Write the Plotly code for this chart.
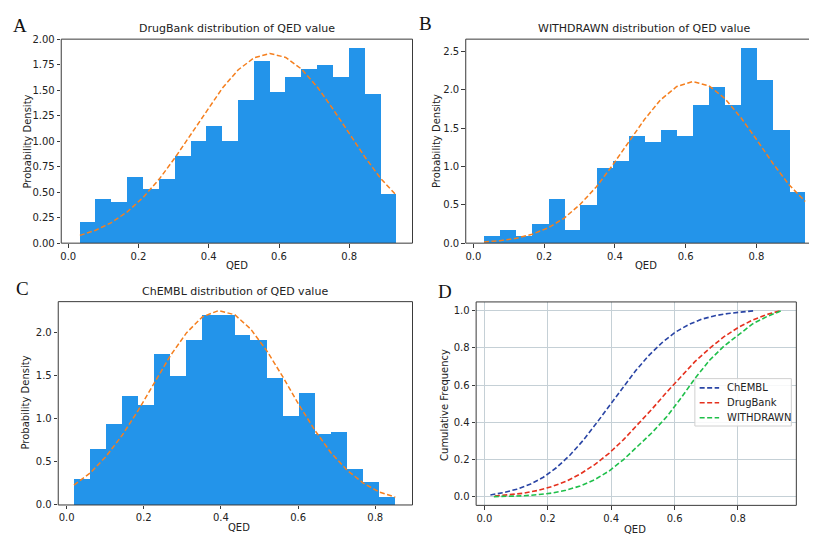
import plotly.graph_objects as go

# ---------------- data ----------------
qed_ticks = [0.0, 0.2, 0.4, 0.6, 0.8]

# DrugBank histogram (density) and fitted curve at bin edges
drugbank_edges = [0.033, 0.078, 0.123, 0.168, 0.213, 0.259, 0.304, 0.349, 0.394, 0.439, 0.484,
                  0.529, 0.574, 0.619, 0.664, 0.710, 0.755, 0.800, 0.845, 0.890, 0.935]
drugbank_density = [0.21, 0.43, 0.40, 0.65, 0.53, 0.63, 0.85, 1.00, 1.15, 1.00,
                    1.40, 1.78, 1.48, 1.63, 1.71, 1.75, 1.63, 1.91, 1.46, 0.48]
drugbank_fit = [0.076, 0.127, 0.202, 0.307, 0.448, 0.628, 0.838, 1.068, 1.303, 1.521, 1.700,
                1.817, 1.860, 1.821, 1.707, 1.526, 1.308, 1.073, 0.842, 0.632, 0.465]
drugbank_cum = [0.004, 0.010, 0.019, 0.034, 0.055, 0.084, 0.124, 0.174, 0.235, 0.307, 0.387,
                0.472, 0.560, 0.645, 0.726, 0.797, 0.859, 0.909, 0.949, 0.979, 1.000]

# WITHDRAWN
withdrawn_edges = [0.030, 0.075, 0.121, 0.166, 0.212, 0.257, 0.302, 0.348, 0.393, 0.439, 0.484,
                   0.529, 0.575, 0.620, 0.666, 0.711, 0.756, 0.802, 0.847, 0.893, 0.938]
withdrawn_density = [0.09, 0.17, 0.09, 0.25, 0.57, 0.17, 0.49, 0.98, 1.07, 1.39,
                     1.32, 1.47, 1.39, 1.80, 2.04, 1.80, 2.54, 2.13, 1.47, 0.66]
withdrawn_fit = [0.016, 0.033, 0.063, 0.116, 0.201, 0.328, 0.507, 0.737, 1.015, 1.318, 1.616,
                 1.870, 2.044, 2.108, 2.053, 1.887, 1.639, 1.342, 1.038, 0.758, 0.545]
withdrawn_cum = [0.001, 0.002, 0.005, 0.011, 0.020, 0.035, 0.058, 0.092, 0.138, 0.200, 0.270,
                 0.345, 0.430, 0.530, 0.640, 0.735, 0.810, 0.873, 0.930, 0.970, 1.000]

# ChEMBL
chembl_edges = [0.019, 0.061, 0.102, 0.144, 0.186, 0.227, 0.269, 0.311, 0.352, 0.394, 0.436,
                0.477, 0.519, 0.561, 0.602, 0.644, 0.685, 0.727, 0.769, 0.810, 0.852]
chembl_density = [0.30, 0.65, 0.94, 1.27, 1.16, 1.75, 1.50, 1.91, 2.20, 2.20,
                  1.97, 1.91, 1.47, 1.03, 1.30, 0.83, 0.85, 0.42, 0.27, 0.10]
chembl_fit = [0.229, 0.369, 0.560, 0.806, 1.098, 1.415, 1.727, 1.993, 2.176, 2.249, 2.200,
              2.036, 1.783, 1.478, 1.160, 0.861, 0.605, 0.402, 0.253, 0.150, 0.090]
chembl_cum = [0.010, 0.023, 0.041, 0.067, 0.105, 0.156, 0.222, 0.302, 0.392, 0.488, 0.585,
              0.677, 0.760, 0.829, 0.884, 0.925, 0.954, 0.973, 0.985, 0.993, 1.000]

series_names = ['ChEMBL', 'DrugBank', 'WITHDRAWN']

# ---------------- style ----------------
BAR = '#2394ea'
FIT = '#f57f1e'
AX = '#3a3a3a'
FONT = 'DejaVu Sans'
DASH = '5px,2.5px'
W, H = 817, 535
CUM_COLORS = ['#2a45a5', '#e5311e', '#1fbf4a']


def px(x):
    return x / W


def py(y):
    return 1 - y / H


fig = go.Figure()


def add_hist(edges, dens, fit, xa, ya):
    centers = [(edges[i] + edges[i + 1]) / 2 for i in range(len(dens))]
    widths = [edges[i + 1] - edges[i] for i in range(len(dens))]
    fig.add_trace(go.Bar(x=centers, y=dens, width=widths, marker=dict(color=BAR, line=dict(width=0)),
                         xaxis=xa, yaxis=ya, showlegend=False, hoverinfo='skip'))
    fig.add_trace(go.Scatter(x=edges, y=fit, mode='lines', line=dict(color=FIT, width=1.5, dash=DASH),
                             xaxis=xa, yaxis=ya, showlegend=False, hoverinfo='skip'))


add_hist(drugbank_edges, drugbank_density, drugbank_fit, 'x', 'y')
add_hist(withdrawn_edges, withdrawn_density, withdrawn_fit, 'x2', 'y2')
add_hist(chembl_edges, chembl_density, chembl_fit, 'x3', 'y3')

for name, ex, cy, col in zip(series_names, [chembl_edges, drugbank_edges, withdrawn_edges],
                             [chembl_cum, drugbank_cum, withdrawn_cum], CUM_COLORS):
    fig.add_trace(go.Scatter(x=ex, y=cy, mode='lines', name=name,
                             line=dict(color=col, width=1.6, dash=DASH),
                             xaxis='x4', yaxis='y4', hoverinfo='skip', showlegend=False))


def axcommon(**kw):
    d = dict(showline=False, ticks='outside', ticklen=3.5,
             tickwidth=1, tickcolor=AX, showgrid=False, zeroline=False,
             tickfont=dict(family=FONT, size=10, color='#222'))
    d.update(kw)
    return d


xt = dict(tickvals=qed_ticks, ticktext=['%.1f' % v for v in qed_ticks])

fig.update_layout(
    width=W, height=H, margin=dict(l=0, r=0, t=0, b=0),
    paper_bgcolor='white', plot_bgcolor='white', bargap=0, showlegend=False,
    xaxis=axcommon(domain=[px(52.3), px(404)], range=[-0.020, 0.980], anchor='y', **xt),
    yaxis=axcommon(domain=[py(235), py(26.7)], range=[0, 2.0], anchor='x',
                   tickvals=[0, 0.25, 0.5, 0.75, 1.0, 1.25, 1.5, 1.75, 2.0], tickformat='.2f'),
    xaxis2=axcommon(domain=[px(457.3), px(813.3)], range=[-0.0216, 0.9835], anchor='y2', **xt),
    yaxis2=axcommon(domain=[py(235), py(26.7)], range=[0, 2.662], anchor='x2',
                    tickvals=[0, 0.5, 1.0, 1.5, 2.0, 2.5], tickformat='.1f'),
    xaxis3=axcommon(domain=[px(49.3), px(404)], range=[-0.0217, 0.8966], anchor='y3', **xt),
    yaxis3=axcommon(domain=[py(502.3), py(294.7)], range=[0, 2.352], anchor='x3',
                    tickvals=[0, 0.5, 1.0, 1.5, 2.0], tickformat='.1f'),
    xaxis4=axcommon(domain=[px(467.7), px(788.3)], range=[-0.026, 0.984], anchor='y4',
                    showgrid=True, gridcolor='#c5d0d6', gridwidth=1, **xt),
    yaxis4=axcommon(domain=[py(502.7), py(295)], range=[-0.046, 1.047], anchor='x4',
                    showgrid=True, gridcolor='#c5d0d6', gridwidth=1,
                    tickvals=[0, 0.2, 0.4, 0.6, 0.8, 1.0], tickformat='.1f'),
)

shapes = []
# axes frames
for xa, ya in [('x', 'y'), ('x2', 'y2'), ('x3', 'y3'), ('x4', 'y4')]:
    shapes.append(dict(type='rect', xref=xa + ' domain', yref=ya + ' domain', x0=0, x1=1, y0=0, y1=1,
                       line=dict(color=AX, width=1), layer='above'))

anns = []


def txt(x, y, s, size=10, angle=0, family=FONT, color='#222', anchor='center'):
    anns.append(dict(x=px(x), y=py(y), xref='paper', yref='paper', text=s, showarrow=False,
                     xanchor=anchor, yanchor='middle', textangle=angle,
                     font=dict(family=family, size=size, color=color)))


# manual legend for panel D
shapes.append(dict(type='rect', xref='paper', yref='paper', x0=px(686.7), x1=px(783.3),
                   y0=py(421.7), y1=py(373.3), line=dict(color='#d0d0d0', width=1),
                   fillcolor='rgba(255,255,255,0.85)', layer='above'))
for k, (name, col) in enumerate(zip(series_names, CUM_COLORS)):
    yy = 382.7 + 15.3 * k
    shapes.append(dict(type='line', xref='paper', yref='paper', x0=px(691.5), x1=px(711),
                       y0=py(yy), y1=py(yy), line=dict(color=col, width=1.6, dash=DASH), layer='above'))
    txt(716.5, yy, name, size=10, anchor='left')

# titles
txt(228.2, 16, 'DrugBank distribution of QED value', 11)
txt(636, 16, 'WITHDRAWN distribution of QED value', 11)
txt(225.8, 284.3, 'ChEMBL distribution of QED value', 11)
# axis titles
txt(228.2, 257.3, 'QED')
txt(637.3, 257.7, 'QED')
txt(230, 525, 'QED')
txt(626.7, 527.3, 'QED')
txt(18.3, 131, 'Probability Density', angle=-90)
txt(428.3, 131, 'Probability Density', angle=-90)
txt(16.7, 398, 'Probability Density', angle=-90)
txt(436.7, 400, 'Cumulative Frequency', angle=-90)
# panel letters
for letter, x, y in [('A', 10.8, 12.8), ('B', 417, 10.7), ('C', 13.8, 281.7), ('D', 436.3, 284)]:
    txt(x, y, letter, size=19, family='Liberation Serif', color='#111')

fig.update_layout(annotations=anns, shapes=shapes)
fig.write_html('out.html')
